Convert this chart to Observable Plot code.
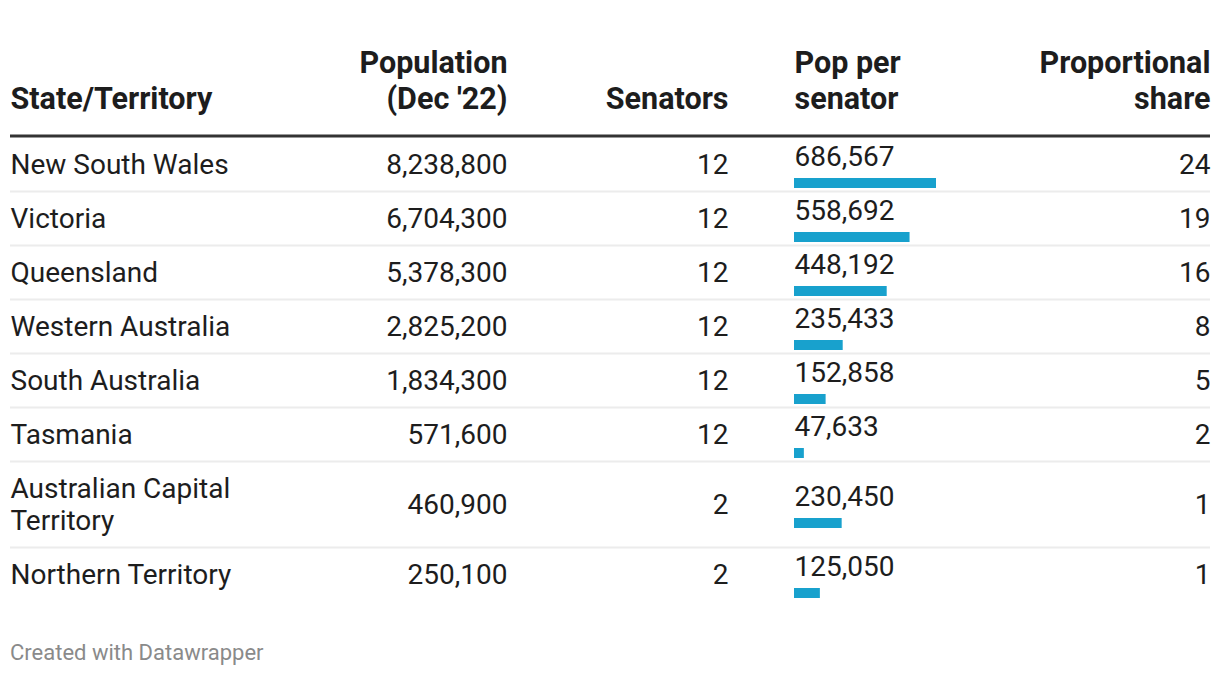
<!DOCTYPE html>
<html>
<head>
<meta charset="utf-8">
<script src="https://cdn.jsdelivr.net/npm/d3@7"></script>
<script src="https://cdn.jsdelivr.net/npm/@observablehq/plot@0.6"></script>
<style>
  html, body { margin: 0; padding: 0; background: #fff; }
  body { font-family: Roboto, "Noto Sans", sans-serif; width: 1220px; height: 676px; overflow: hidden; }
  #chart svg { display: block; }
  #footer { font-family: Roboto, sans-serif; font-size: 22px; color: #8a8a8a; padding-left: 10px; margin-top: 30px; line-height: 26px; }
</style>
</head>
<body>
<div id="chart"></div>
<div id="footer">Created with Datawrapper</div>
<script>
// ---- Data ----
const states = ["New South Wales", "Victoria", "Queensland", "Western Australia", "South Australia", "Tasmania", "Australian Capital Territory", "Northern Territory"];
const population = [8238800, 6704300, 5378300, 2825200, 1834300, 571600, 460900, 250100];
const senators = [12, 12, 12, 12, 12, 12, 2, 2];
const popPerSenator = [686567, 558692, 448192, 235433, 152858, 47633, 230450, 125050];
const proportionalShare = [24, 19, 16, 8, 5, 2, 1, 1];
const headers = ["State/Territory", "Population\n(Dec '22)", "Senators", "Pop per\nsenator", "Proportional\nshare"];

// ---- Layout ----
const W = 1220, H = 610;
const fontSize = 28;
const headerFontSize = 30.5;
const textColor = "#1d1d1d";
const barColor = "#18a1cd";
const headerBaseline = 108;
const headerRuleY = 135.5;
const tableTop = 137;
const rowH = 54, extraLine = 32;
const nameColWidth = 240;
// column anchors relative to frame left (marginLeft = 10)
const colName = 0, colPop = 497, colSen = 718, colBar = 784;
const barLeft = 794, barMaxWidth = 142;

const fmt = d3.format(",");
const ctx = document.createElement("canvas").getContext("2d");
ctx.font = `${fontSize}px Roboto`;
function wrap(text, maxW) {
  const words = text.split(" ");
  const lines = [];
  let cur = "";
  for (const w of words) {
    const t = cur ? cur + " " + w : w;
    if (cur && ctx.measureText(t).width > maxW) { lines.push(cur); cur = w; }
    else cur = t;
  }
  lines.push(cur);
  return lines.join("\n");
}

let yPos = tableTop;
const rows = states.map((s, i) => {
  const name = wrap(s, nameColWidth);
  const n = name.split("\n").length;
  const h = rowH + (n - 1) * extraLine;
  const r = {
    name, pop: population[i], sen: senators[i], per: popPerSenator[i], share: proportionalShare[i],
    rowTop: yPos, center: yPos + h / 2, bottom: yPos + h
  };
  yPos += h;
  return r;
});

const common = {fontSize, fill: textColor, frameAnchor: "left", lineHeight: extraLine / fontSize};
const head = {fontSize: headerFontSize, fill: textColor, frameAnchor: "left", fontWeight: "bold",
  lineAnchor: "bottom", lineHeight: 36 / headerFontSize, y: () => headerBaseline, text: d => d};

const chart = Plot.plot({
  width: W,
  height: H,
  marginLeft: 10,
  marginRight: 10,
  marginTop: 0,
  marginBottom: 0,
  style: {fontFamily: "Roboto, sans-serif", background: "#fff", overflow: "visible"},
  x: {domain: [0, d3.max(popPerSenator)], range: [barLeft, barLeft + barMaxWidth], axis: null},
  y: {type: "identity", axis: null},
  marks: [
    // header
    Plot.text([headers[0]], {...head, dx: colName, textAnchor: "start"}),
    Plot.text([headers[1]], {...head, dx: colPop, textAnchor: "end"}),
    Plot.text([headers[2]], {...head, dx: colSen, textAnchor: "end"}),
    Plot.text([headers[3]], {...head, dx: colBar, textAnchor: "start"}),
    Plot.text([headers[4]], {...head, frameAnchor: "right", textAnchor: "end"}),
    Plot.ruleY([headerRuleY], {y: d => d, stroke: "#333", strokeWidth: 3}),
    // row separators
    Plot.ruleY(rows.slice(0, -1), {y: "bottom", stroke: "#ececec", strokeWidth: 2}),
    // cells
    Plot.text(rows, {...common, y: "center", dy: -1, text: "name", dx: colName, textAnchor: "start"}),
    Plot.text(rows, {...common, y: "center", dy: -1, text: d => fmt(d.pop), dx: colPop, textAnchor: "end"}),
    Plot.text(rows, {...common, y: "center", dy: -1, text: d => fmt(d.sen), dx: colSen, textAnchor: "end"}),
    Plot.text(rows, {...common, y: d => d.center + 1.5, text: d => fmt(d.per), dx: colBar, textAnchor: "start", lineAnchor: "bottom"}),
    Plot.rect(rows, {x1: () => 0, x2: "per", y1: d => d.center + 14, y2: d => d.center + 24, fill: barColor}),
    Plot.text(rows, {...common, frameAnchor: "right", y: "center", dy: -1, text: d => fmt(d.share), textAnchor: "end"})
  ]
});
document.getElementById("chart").appendChild(chart);
</script>
</body>
</html>
